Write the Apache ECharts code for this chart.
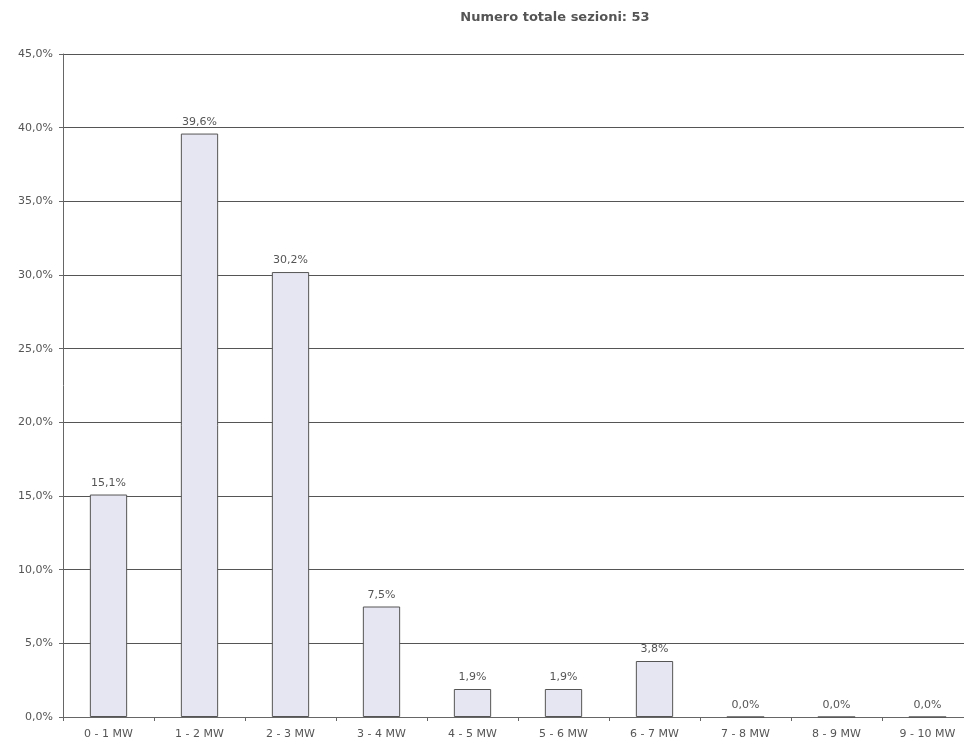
<!DOCTYPE html>
<html>
<head>
<meta charset="utf-8">
<script src="https://cdn.jsdelivr.net/npm/echarts@6/dist/echarts.min.js"></script>
<style>
  html, body { margin: 0; padding: 0; background: #fff; overflow: hidden; }
  /* plot runs slightly past the right edge of the window, like the scan */
  #chart { width: 973px; height: 746px; }
</style>
</head>
<body>
<div id="chart"></div>
<script>
const categories = ["0 - 1 MW", "1 - 2 MW", "2 - 3 MW", "3 - 4 MW", "4 - 5 MW",
  "5 - 6 MW", "6 - 7 MW", "7 - 8 MW", "8 - 9 MW", "9 - 10 MW"];
const shares = [15.1, 39.6, 30.2, 7.5, 1.9, 1.9, 3.8, 0.0, 0.0, 0.0];
const titleText = "Numero totale sezioni: 53";

const pct = v => Number(v).toFixed(1).replace(".", ",") + "%";
const font = "DejaVu Sans, Arial, sans-serif";

const chart = echarts.init(document.getElementById("chart"));
chart.setOption({
  animation: false,
  title: {
    text: titleText,
    left: 550,
    top: 6,
    textAlign: "center",
    textStyle: { fontFamily: font, fontSize: 13, fontWeight: "bold", color: "#555" }
  },
  grid: { left: 63, right: 0, top: 54, bottom: 29 },
  xAxis: {
    type: "category",
    data: categories,
    axisLine: { lineStyle: { color: "#666", width: 1 } },
    axisTick: { show: true, length: 4, lineStyle: { color: "#666" } },
    axisLabel: { fontFamily: font, fontSize: 11, color: "#555", margin: 12, interval: 0 }
  },
  yAxis: {
    type: "value",
    min: 0,
    max: 45,
    interval: 5,
    axisLine: { show: true, lineStyle: { color: "#666", width: 1 } },
    axisTick: { show: true, length: 4, lineStyle: { color: "#666" } },
    axisLabel: { fontFamily: font, fontSize: 11, color: "#555", margin: 10, formatter: v => pct(v) },
    splitLine: { lineStyle: { color: "#555", width: 1 } }
  },
  series: [{
    type: "bar",
    data: shares,
    barWidth: "41%",
    itemStyle: { color: "#e6e6f2", borderColor: "#555", borderWidth: 1 },
    label: {
      show: true,
      position: "top",
      distance: 6,
      fontFamily: font,
      fontSize: 11,
      color: "#555",
      formatter: p => pct(p.value)
    }
  }]
});
</script>
</body>
</html>
